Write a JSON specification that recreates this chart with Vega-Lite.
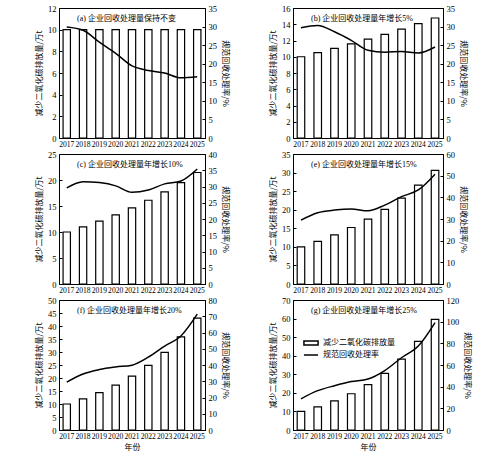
{
  "$schema": "https://vega.github.io/schema/vega-lite/v6.json",
  "padding": {"left": 35, "top": 3, "right": 5, "bottom": 2},
  "background": "white",
  "config": {
    "font": "Liberation Serif, Noto Sans CJK SC",
    "view": {"stroke": "black", "strokeWidth": 1},
    "axis": {"grid": false, "domainColor": "black", "tickColor": "black", "labelColor": "black", "titleColor": "black", "labelFontSize": 8.5, "titleFontSize": 8, "titleFontWeight": "normal", "labelFont": "Liberation Serif", "titleFont": "Noto Sans CJK SC", "tickSize": -3, "labelPadding": 6, "titlePadding": 4},
    "axisX": {"labelFontSize": 7.6, "labelOverlap": false, "labelPadding": 5},
    "title": {"fontSize": 8, "fontWeight": "normal", "color": "black", "font": "Liberation Serif, Noto Sans CJK SC", "anchor": "start", "frame": "group", "offset": -19, "dx": 18},
    "legend": {"labelFont": "Noto Sans CJK SC", "labelFontSize": 8, "labelColor": "black"}
  },
  "data": {"values": [
    {"panel": "a", "year": "2017", "co2": 10, "rate": 29.9},
    {"panel": "a", "year": "2018", "co2": 10, "rate": 29.0},
    {"panel": "a", "year": "2019", "co2": 10, "rate": 25.8},
    {"panel": "a", "year": "2020", "co2": 10, "rate": 22.8},
    {"panel": "a", "year": "2021", "co2": 10, "rate": 19.4},
    {"panel": "a", "year": "2022", "co2": 10, "rate": 18.2},
    {"panel": "a", "year": "2023", "co2": 10, "rate": 17.5},
    {"panel": "a", "year": "2024", "co2": 10, "rate": 16.2},
    {"panel": "a", "year": "2025", "co2": 10, "rate": 16.5},
    {"panel": "b", "year": "2017", "co2": 10, "rate": 29.7},
    {"panel": "b", "year": "2018", "co2": 10.5, "rate": 30.3},
    {"panel": "b", "year": "2019", "co2": 11.03, "rate": 28.6},
    {"panel": "b", "year": "2020", "co2": 11.58, "rate": 26.3},
    {"panel": "b", "year": "2021", "co2": 12.16, "rate": 23.6},
    {"panel": "b", "year": "2022", "co2": 12.76, "rate": 23.1},
    {"panel": "b", "year": "2023", "co2": 13.4, "rate": 23.3},
    {"panel": "b", "year": "2024", "co2": 14.07, "rate": 22.9},
    {"panel": "b", "year": "2025", "co2": 14.77, "rate": 24.5},
    {"panel": "c", "year": "2017", "co2": 10, "rate": 29.6},
    {"panel": "c", "year": "2018", "co2": 11, "rate": 31.5},
    {"panel": "c", "year": "2019", "co2": 12.1, "rate": 31.2},
    {"panel": "c", "year": "2020", "co2": 13.31, "rate": 30.2},
    {"panel": "c", "year": "2021", "co2": 14.64, "rate": 28.2},
    {"panel": "c", "year": "2022", "co2": 16.11, "rate": 28.9},
    {"panel": "c", "year": "2023", "co2": 17.72, "rate": 30.8},
    {"panel": "c", "year": "2024", "co2": 19.49, "rate": 31.7},
    {"panel": "c", "year": "2025", "co2": 21.44, "rate": 35.4},
    {"panel": "e", "year": "2017", "co2": 10, "rate": 29.5},
    {"panel": "e", "year": "2018", "co2": 11.5, "rate": 32.9},
    {"panel": "e", "year": "2019", "co2": 13.23, "rate": 34.1},
    {"panel": "e", "year": "2020", "co2": 15.21, "rate": 34.6},
    {"panel": "e", "year": "2021", "co2": 17.49, "rate": 33.8},
    {"panel": "e", "year": "2022", "co2": 20.11, "rate": 36.4},
    {"panel": "e", "year": "2023", "co2": 23.13, "rate": 40.3},
    {"panel": "e", "year": "2024", "co2": 26.6, "rate": 43.4},
    {"panel": "e", "year": "2025", "co2": 30.59, "rate": 50.7},
    {"panel": "f", "year": "2017", "co2": 10, "rate": 29.5},
    {"panel": "f", "year": "2018", "co2": 12, "rate": 34.5},
    {"panel": "f", "year": "2019", "co2": 14.4, "rate": 37.2},
    {"panel": "f", "year": "2020", "co2": 17.28, "rate": 38.8},
    {"panel": "f", "year": "2021", "co2": 20.74, "rate": 39.9},
    {"panel": "f", "year": "2022", "co2": 24.88, "rate": 44.8},
    {"panel": "f", "year": "2023", "co2": 29.86, "rate": 51.6},
    {"panel": "f", "year": "2024", "co2": 35.83, "rate": 57.9},
    {"panel": "f", "year": "2025", "co2": 43, "rate": 71.3},
    {"panel": "g", "year": "2017", "co2": 10, "rate": 28.8},
    {"panel": "g", "year": "2018", "co2": 12.5, "rate": 36.3},
    {"panel": "g", "year": "2019", "co2": 15.63, "rate": 40.9},
    {"panel": "g", "year": "2020", "co2": 19.53, "rate": 44.7},
    {"panel": "g", "year": "2021", "co2": 24.41, "rate": 47.1},
    {"panel": "g", "year": "2022", "co2": 30.52, "rate": 54.9},
    {"panel": "g", "year": "2023", "co2": 38.15, "rate": 66.7},
    {"panel": "g", "year": "2024", "co2": 47.68, "rate": 77.5},
    {"panel": "g", "year": "2025", "co2": 59.6, "rate": 99.2}
  ]},
  "columns": 2,
  "spacing": {"row": 0, "column": 40},
  "resolve": {"scale": {"fill": "independent", "stroke": "independent"}},
  "concat": [
    {
      "width": 146, "height": 130,
      "title": {"text": "(a) 企业回收处理量保持不变"},
      "transform": [{"filter": "datum.panel === 'a'"}],
      "encoding": {"x": {"field": "year", "type": "ordinal", "scale": {"paddingInner": 0.55, "paddingOuter": 0.25}, "axis": {"title": null, "labelAngle": 0}}},
      "layer": [
        {"mark": {"type": "bar", "fill": "white", "stroke": "black", "strokeWidth": 1.2}, "encoding": {"y": {"field": "co2", "type": "quantitative", "scale": {"domain": [0, 12]}, "axis": {"title": "减少二氧化碳排放量/万t", "values": [0, 2, 4, 6, 8, 10, 12]}}}},
        {"mark": {"type": "line", "color": "black", "strokeWidth": 1.5, "interpolate": "monotone"}, "encoding": {"y": {"field": "rate", "type": "quantitative", "scale": {"domain": [0, 35]}, "axis": {"orient": "right", "title": "规范回收处理率/%", "values": [0, 5, 10, 15, 20, 25, 30, 35]}}}}
      ],
      "resolve": {"scale": {"y": "independent"}}
    },
    {
      "width": 150, "height": 130,
      "title": {"text": "(b) 企业回收处理量年增长5%"},
      "transform": [{"filter": "datum.panel === 'b'"}],
      "encoding": {"x": {"field": "year", "type": "ordinal", "scale": {"paddingInner": 0.55, "paddingOuter": 0.25}, "axis": {"title": null, "labelAngle": 0}}},
      "layer": [
        {"mark": {"type": "bar", "fill": "white", "stroke": "black", "strokeWidth": 1.2}, "encoding": {"y": {"field": "co2", "type": "quantitative", "scale": {"domain": [0, 16]}, "axis": {"title": "减少二氧化碳排放量/万t", "values": [0, 2, 4, 6, 8, 10, 12, 14, 16]}}}},
        {"mark": {"type": "line", "color": "black", "strokeWidth": 1.5, "interpolate": "monotone"}, "encoding": {"y": {"field": "rate", "type": "quantitative", "scale": {"domain": [0, 35]}, "axis": {"orient": "right", "title": "规范回收处理率/%", "values": [0, 5, 10, 15, 20, 25, 30, 35]}}}}
      ],
      "resolve": {"scale": {"y": "independent"}}
    },
    {
      "width": 146, "height": 130,
      "title": {"text": "(c) 企业回收处理量年增长10%"},
      "transform": [{"filter": "datum.panel === 'c'"}],
      "encoding": {"x": {"field": "year", "type": "ordinal", "scale": {"paddingInner": 0.55, "paddingOuter": 0.25}, "axis": {"title": null, "labelAngle": 0}}},
      "layer": [
        {"mark": {"type": "bar", "fill": "white", "stroke": "black", "strokeWidth": 1.2}, "encoding": {"y": {"field": "co2", "type": "quantitative", "scale": {"domain": [0, 25]}, "axis": {"title": "减少二氧化碳排放量/万t", "values": [0, 5, 10, 15, 20, 25]}}}},
        {"mark": {"type": "line", "color": "black", "strokeWidth": 1.5, "interpolate": "monotone"}, "encoding": {"y": {"field": "rate", "type": "quantitative", "scale": {"domain": [0, 40]}, "axis": {"orient": "right", "title": "规范回收处理率/%", "values": [0, 5, 10, 15, 20, 25, 30, 35, 40]}}}}
      ],
      "resolve": {"scale": {"y": "independent"}}
    },
    {
      "width": 150, "height": 130,
      "title": {"text": "(e) 企业回收处理量年增长15%"},
      "transform": [{"filter": "datum.panel === 'e'"}],
      "encoding": {"x": {"field": "year", "type": "ordinal", "scale": {"paddingInner": 0.55, "paddingOuter": 0.25}, "axis": {"title": null, "labelAngle": 0}}},
      "layer": [
        {"mark": {"type": "bar", "fill": "white", "stroke": "black", "strokeWidth": 1.2}, "encoding": {"y": {"field": "co2", "type": "quantitative", "scale": {"domain": [0, 35]}, "axis": {"title": "减少二氧化碳排放量/万t", "values": [0, 5, 10, 15, 20, 25, 30, 35]}}}},
        {"mark": {"type": "line", "color": "black", "strokeWidth": 1.5, "interpolate": "monotone"}, "encoding": {"y": {"field": "rate", "type": "quantitative", "scale": {"domain": [0, 60]}, "axis": {"orient": "right", "title": "规范回收处理率/%", "values": [0, 10, 20, 30, 40, 50, 60]}}}}
      ],
      "resolve": {"scale": {"y": "independent"}}
    },
    {
      "width": 146, "height": 130,
      "title": {"text": "(f) 企业回收处理量年增长20%"},
      "transform": [{"filter": "datum.panel === 'f'"}],
      "encoding": {"x": {"field": "year", "type": "ordinal", "scale": {"paddingInner": 0.55, "paddingOuter": 0.25}, "axis": {"title": "年份", "labelAngle": 0, "titlePadding": 4}}},
      "layer": [
        {"mark": {"type": "bar", "fill": "white", "stroke": "black", "strokeWidth": 1.2}, "encoding": {"y": {"field": "co2", "type": "quantitative", "scale": {"domain": [0, 50]}, "axis": {"title": "减少二氧化碳排放量/万t", "values": [0, 5, 10, 15, 20, 25, 30, 35, 40, 45, 50]}}}},
        {"mark": {"type": "line", "color": "black", "strokeWidth": 1.5, "interpolate": "monotone"}, "encoding": {"y": {"field": "rate", "type": "quantitative", "scale": {"domain": [0, 80]}, "axis": {"orient": "right", "title": "规范回收处理率/%", "values": [0, 10, 20, 30, 40, 50, 60, 70, 80]}}}}
      ],
      "resolve": {"scale": {"y": "independent"}}
    },
    {
      "width": 150, "height": 130,
      "title": {"text": "(g) 企业回收处理量年增长25%"},
      "transform": [{"filter": "datum.panel === 'g'"}],
      "encoding": {"x": {"field": "year", "type": "ordinal", "scale": {"paddingInner": 0.55, "paddingOuter": 0.25}, "axis": {"title": "年份", "labelAngle": 0, "titlePadding": 4}}},
      "layer": [
        {"mark": {"type": "bar", "stroke": "black", "strokeWidth": 1.2}, "encoding": {
          "y": {"field": "co2", "type": "quantitative", "scale": {"domain": [0, 70]}, "axis": {"title": "减少二氧化碳排放量/万t", "values": [0, 10, 20, 30, 40, 50, 60, 70]}},
          "fill": {"datum": "减少二氧化碳排放量", "scale": {"range": ["white"]}, "legend": {"title": null, "orient": "none", "legendX": 10, "legendY": 35, "symbolType": "M-1,-0.3H1V0.3H-1Z", "symbolSize": 200, "symbolStrokeColor": "black", "symbolStrokeWidth": 1.5, "symbolFillColor": "white"}}
        }},
        {"mark": {"type": "line", "strokeWidth": 1.5, "interpolate": "monotone"}, "encoding": {
          "y": {"field": "rate", "type": "quantitative", "scale": {"domain": [0, 120]}, "axis": {"orient": "right", "title": "规范回收处理率/%", "values": [0, 20, 40, 60, 80, 100, 120]}},
          "stroke": {"datum": "规范回收处理率", "scale": {"range": ["black"]}, "legend": {"title": null, "orient": "none", "legendX": 10, "legendY": 47, "symbolType": "stroke", "symbolSize": 200, "symbolStrokeWidth": 1.5}}
        }}
      ],
      "resolve": {"scale": {"y": "independent"}}
    }
  ]
}
